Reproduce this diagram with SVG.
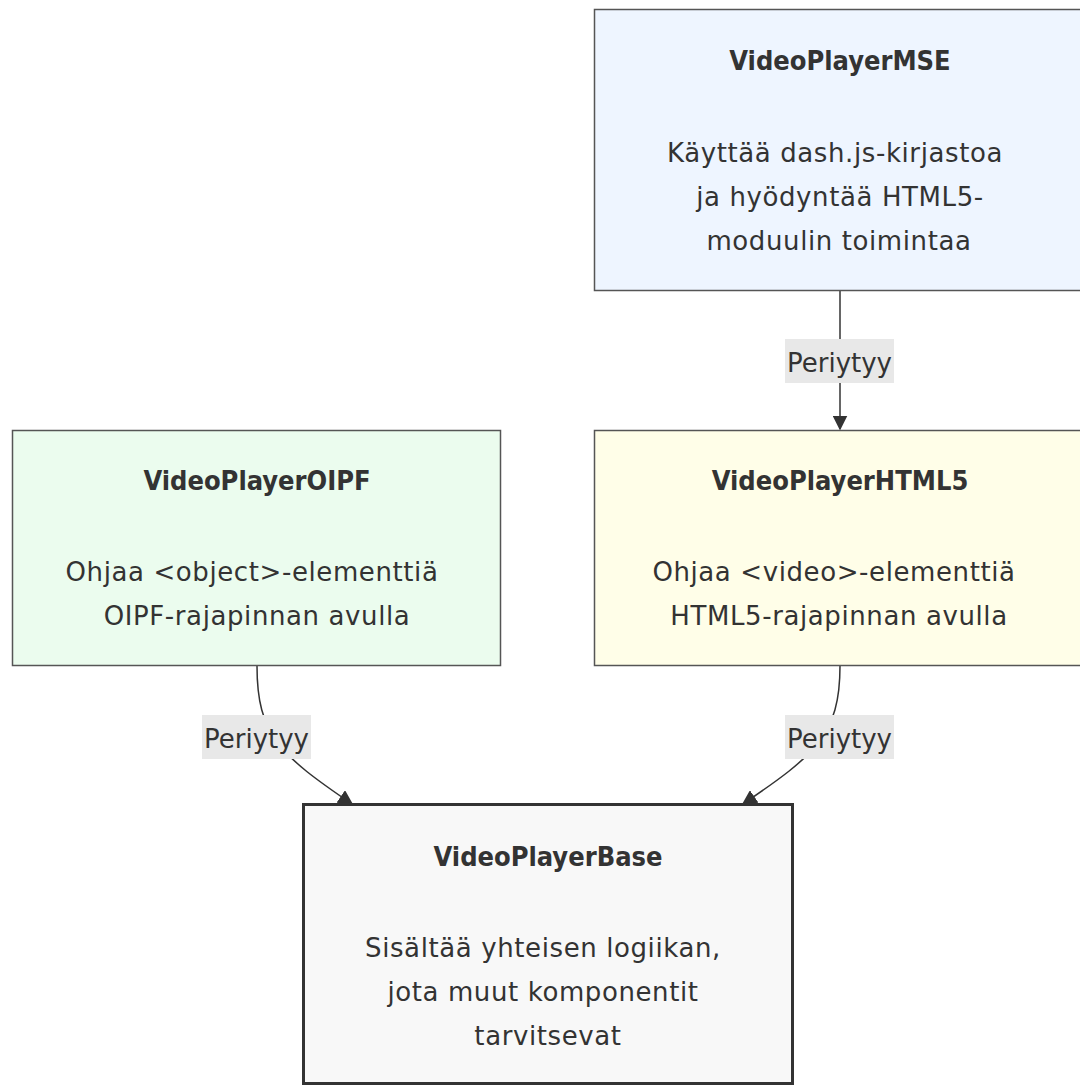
<svg xmlns="http://www.w3.org/2000/svg" width="1080" height="1086" viewBox="0 0 1080 1086">
<style>
  .box { stroke: #555; stroke-width: 1.5; }
  .title { font-family: "DejaVu Sans Condensed", "DejaVu Sans", sans-serif; font-stretch: condensed; font-size: 27px; font-weight: bold; fill: #333; text-anchor: middle; }
  .body { font-family: "DejaVu Sans", Verdana, sans-serif; font-size: 26px; letter-spacing: 0.6px; fill: #333; text-anchor: middle; }
  .edge { fill: none; stroke: #333; stroke-width: 1.5; }
  .lbg { fill: #e8e8e8; }
  .lbl { font-family: "DejaVu Sans", Verdana, sans-serif; font-size: 26px; fill: #333; text-anchor: middle; }
</style>
<defs>
  <marker id="arrow" viewBox="0 0 10 10" refX="9" refY="5" markerWidth="15" markerHeight="15" markerUnits="userSpaceOnUse" orient="auto">
    <path d="M0,0 L10,5 L0,10 z" fill="#333"/>
  </marker>
</defs>
<rect width="1080" height="1086" fill="#ffffff"/>
<g id="connectors">
  <path class="edge" d="M840,291 L840,429" marker-end="url(#arrow)"/>
  <path class="edge" d="M257,666 C257,735 280,755 352,804" marker-end="url(#arrow)"/>
  <path class="edge" d="M840,666 C840,735 815,755 743,804" marker-end="url(#arrow)"/>
  <g id="label-mse-html5"><rect class="lbg" x="785" y="339" width="109" height="44"/><text class="lbl" x="839.5" y="372">Periytyy</text></g>
  <g id="label-oipf-base"><rect class="lbg" x="202" y="715" width="109" height="44"/><text class="lbl" x="256.5" y="748">Periytyy</text></g>
  <g id="label-html5-base"><rect class="lbg" x="785" y="715" width="109" height="44"/><text class="lbl" x="839.5" y="748">Periytyy</text></g>
</g>
<g id="node-mse">
  <rect class="box" x="594.5" y="9.5" width="500" height="281" fill="#eef5ff"/>
  <text class="title" x="840" y="70">VideoPlayerMSE</text>
  <text class="body" x="835" y="162">Käyttää dash.js-kirjastoa</text>
  <text class="body" x="840" y="206">ja hyödyntää HTML5-</text>
  <text class="body" x="839" y="250">moduulin toimintaa</text>
</g>
<g id="node-oipf">
  <rect class="box" x="12.5" y="430.5" width="488" height="235" fill="#ebfcee"/>
  <text class="title" x="257" y="490">VideoPlayerOIPF</text>
  <text class="body" x="252" y="581">Ohjaa &lt;object&gt;-elementtiä</text>
  <text class="body" x="257" y="625">OIPF-rajapinnan avulla</text>
</g>
<g id="node-html5">
  <rect class="box" x="594.5" y="430.5" width="500" height="235" fill="#fffee8"/>
  <text class="title" x="840" y="490">VideoPlayerHTML5</text>
  <text class="body" x="834" y="581">Ohjaa &lt;video&gt;-elementtiä</text>
  <text class="body" x="839" y="625">HTML5-rajapinnan avulla</text>
</g>
<g id="node-base">
  <rect x="303.5" y="804.5" width="489" height="279" fill="#f8f8f8" stroke="#333" stroke-width="3"/>
  <text class="title" x="548" y="866">VideoPlayerBase</text>
  <text class="body" x="543" y="957">Sisältää yhteisen logiikan,</text>
  <text class="body" x="543" y="1001">jota muut komponentit</text>
  <text class="body" x="548" y="1045">tarvitsevat</text>
</g>
</svg>
